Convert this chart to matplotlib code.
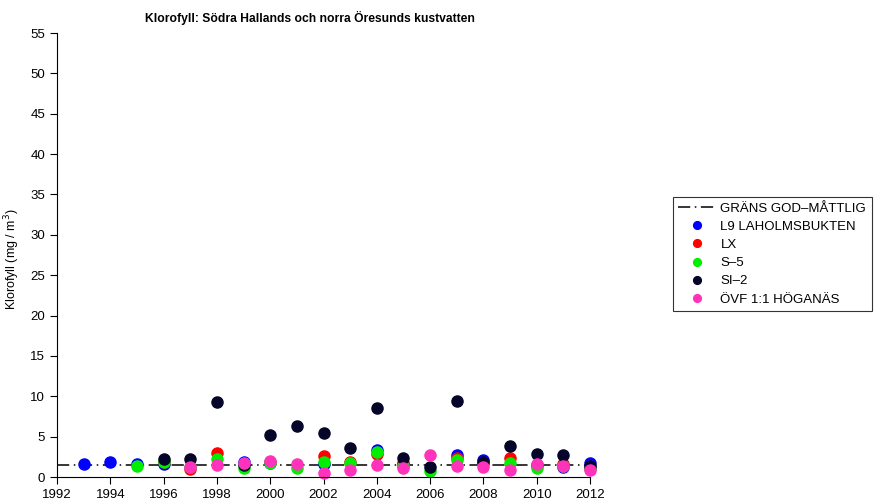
import matplotlib
matplotlib.use("Agg")
import matplotlib.pyplot as plt
import numpy as np

plt.rcParams['font.family'] = ['Liberation Sans', 'DejaVu Sans']

# year -> value, one small array per station
l9_years = [1993, 1994, 1995, 1996, 1999, 2000, 2002, 2004, 2005, 2007, 2008, 2010, 2011, 2012]
l9_vals = [1.57, 1.86, 1.6, 1.65, 1.9, 1.77, 1.57, 3.35, 1.77, 2.72, 2.07, 1.5, 1.24, 1.77]

lx_years = [1996, 1997, 1998, 2000, 2002, 2003, 2004, 2005, 2007, 2008, 2009, 2010, 2011, 2012]
lx_vals = [1.8, 0.99, 2.97, 1.8, 2.56, 1.9, 2.81, 1.5, 2.35, 1.7, 2.35, 1.5, 1.57, 1.1]

s5_years = [1995, 1996, 1997, 1998, 1999, 2000, 2001, 2002, 2003, 2004, 2005, 2006, 2007, 2008, 2009, 2010, 2011, 2012]
s5_vals = [1.36, 1.9, 1.2, 2.23, 1.16, 1.77, 1.12, 1.9, 1.73, 3.06, 1.4, 0.74, 2.1, 1.6, 1.69, 1.12, 1.4, 1.1]

si2_years = [1996, 1997, 1998, 1999, 2000, 2001, 2002, 2003, 2004, 2005, 2006, 2007, 2008, 2009, 2010, 2011, 2012]
si2_vals = [2.27, 2.19, 9.25, 1.45, 5.25, 6.36, 5.5, 3.55, 8.55, 2.31, 1.28, 9.46, 1.82, 3.88, 2.89, 2.69, 1.36]

ovf_years = [1997, 1998, 1999, 2000, 2001, 2002, 2003, 2004, 2005, 2006, 2007, 2008, 2009, 2010, 2011, 2012]
ovf_vals = [1.2, 1.49, 1.77, 1.98, 1.65, 0.54, 0.83, 1.49, 1.12, 2.72, 1.32, 1.24, 0.83, 1.61, 1.36, 0.9]

grans = 1.5

fig = plt.figure(figsize=(8.75, 5.04), dpi=100)
ax = fig.add_axes([57 / 875, 27 / 504, (590 - 57) / 875, (477 - 33) / 504])

ax.axhline(grans, color="black", lw=1.1, linestyle=(0, (8, 3, 1, 3)),
           label="GRÄNS GOD\u2013MÅTTLIG")
series = [
    (l9_years, l9_vals, "#0000ff", "L9 LAHOLMSBUKTEN"),
    (lx_years, lx_vals, "#ff0000", "LX"),
    (s5_years, s5_vals, "#00ee00", "S\u20135"),
    (si2_years, si2_vals, "#05052a", "SI\u20132"),
    (ovf_years, ovf_vals, "#ff33bb", "ÖVF 1:1 HÖGANÄS"),
]
for yrs, vals, col, lab in series:
    ax.plot(yrs, vals, "o", color=col, markersize=8, label=lab, clip_on=False)

ax.set_xlim(1992, 2012)
ax.set_ylim(0, 55)
ax.set_xticks(np.arange(1992, 2013, 2))
ax.set_yticks(np.arange(0, 56, 5))
ax.spines["top"].set_visible(False)
ax.spines["right"].set_visible(False)
ax.tick_params(labelsize=9.5, length=5, width=0.8, direction="out")
ax.set_ylabel("Klorofyll (mg / m$^3$)", fontsize=9)
ax.yaxis.set_label_coords(-0.065, 0.49)

fig.text(310 / 875, 1 - 18 / 504, "Klorofyll: Södra Hallands och norra Öresunds kustvatten",
         ha="center", va="center", fontsize=8.7, fontweight="bold")

leg = ax.legend(loc="center left", bbox_to_anchor=(673 / 875, 1 - 254 / 504),
                bbox_transform=fig.transFigure, fontsize=9.5, frameon=True,
                fancybox=False, edgecolor="black", handlelength=2.8,
                markerscale=0.7, borderpad=0.4, labelspacing=0.45,
                handletextpad=0.4, borderaxespad=0)
leg.get_frame().set_linewidth(0.8)

fig.savefig("out.png", dpi=100)
